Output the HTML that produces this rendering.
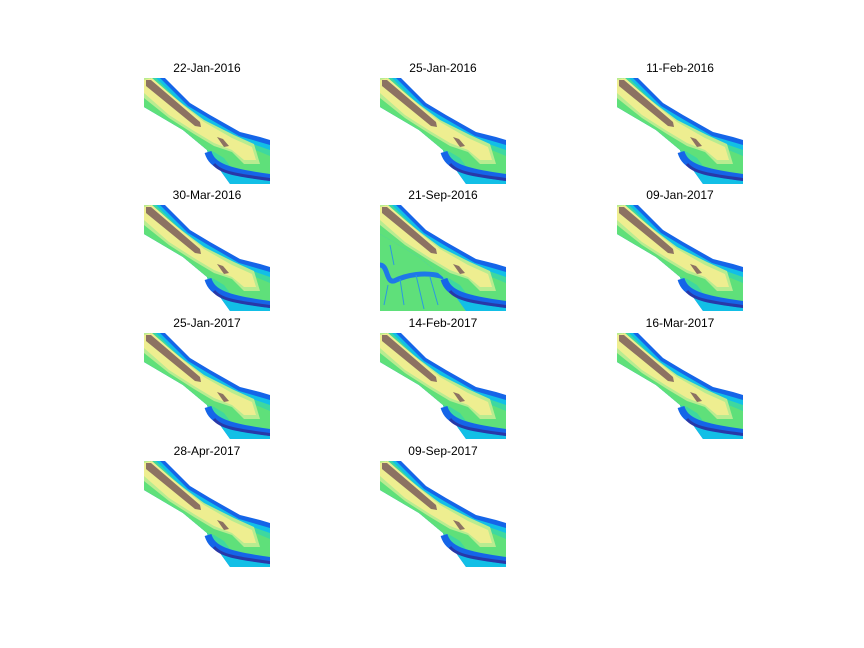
<!DOCTYPE html>
<html><head><meta charset="utf-8"><style>
body{margin:0;background:#fff;}
svg{display:block;font-family:"Liberation Sans","DejaVu Sans",sans-serif;}
</style></head><body>
<svg id="fig" width="864" height="648" viewBox="0 0 864 648">
<defs><clipPath id="pc"><rect x="0" y="0" width="126" height="106"/></clipPath></defs>
<rect width="864" height="648" fill="#fff"/>
</svg>
<script>
const titles=["22-Jan-2016","25-Jan-2016","11-Feb-2016","30-Mar-2016","21-Sep-2016","09-Jan-2017","25-Jan-2017","14-Feb-2017","16-Mar-2017","28-Apr-2017","09-Sep-2017"];
const floodedLowland=[0,0,0,0,1,0,0,0,0,0,0];
const colX=[144,380,617];
const rowY=[78,205,333,461];
const W=126,H=106;
const NS="http://www.w3.org/2000/svg";
const svg=document.getElementById('fig');
function poly(g,pts,fill){
  const p=document.createElementNS(NS,'polygon');
  p.setAttribute('points',pts.map(q=>q.join(',')).join(' '));
  p.setAttribute('fill',fill);
  
  
  g.appendChild(p);
}
function line(g,d,stroke,w,name){
  const c=document.createElementNS(NS,'path');
  c.setAttribute('d',d);c.setAttribute('stroke',stroke);c.setAttribute('stroke-width',w);
  c.setAttribute('fill','none');
  
  
  g.appendChild(c);
}
titles.forEach((t,i)=>{
  const x0=colX[i%3],y0=rowY[Math.floor(i/3)];
  const g=document.createElementNS(NS,'g');
  g.setAttribute('transform',`translate(${x0},${y0})`);
  g.setAttribute('clip-path','url(#pc)');
  
  
  svg.appendChild(g);
  const low=[[86,106],[76,92],[66,82],[63,72],[39,52],[0,29],[0,0]];
  if(floodedLowland[i]){
    poly(g,[[0,29],[39,52],[63,72],[66,82],[76,92],[86,106],[0,106]],'#5fe07a');
    line(g,'M0 60 C8 60 6 78 14 76 C26 70 45 66 64 72','#1e78e8',5,'channel');
    line(g,'M20 74 L24 100 M36 70 L44 104 M8 80 L4 100 M50 72 L58 100 M10 40 L14 60','#2a9ae0',1,'tributary');
  }
  poly(g,[[21,0],[46,25],[66,37],[96,54],[116,59],[126,62],[126,106],...low],'#1565e8');
  poly(g,[[16,0],[44,28],[64,40],[95,58],[126,67],[126,106],...low],'#12bfe6');
  poly(g,[[12,0],[42,30],[62,43],[94,61],[126,72],[126,101],[100,97],[86,94],[76,88],...low.slice(2)],'#3ed8a0');
  poly(g,[[8,0],[40,32],[60,46],[92,64],[126,78],[126,96],[100,92],[86,88],[80,80],[70,74],[63,72],[39,52],[0,29],[0,0]],'#5fe07a');
  line(g,'M64 74 C68 88 82 94 130 100','#1565e8',7,'channel-halo');
  line(g,'M70 86 C76 94 90 97 130 102','#2838a8',3,'deep-channel');
  poly(g,[[0,0],[6,0],[40,27],[60,42],[90,57],[110,66],[116,86],[100,86],[88,74],[70,68],[50,56],[25,40],[0,20]],'#b8ec90');
  poly(g,[[0,2],[8,0],[40,28],[60,44],[88,60],[108,69],[112,82],[100,82],[88,72],[70,65],[50,53],[25,37],[0,15]],'#eeee90');
  poly(g,[[2,2],[7,2],[56,44],[57,49],[51,48],[2,8]],'#8c7262');
  poly(g,[[73,59],[79,61],[85,68],[80,69]],'#8c7262');
  const tx=document.createElementNS(NS,'text');
  tx.setAttribute('x',x0+W/2);tx.setAttribute('y',y0-6);
  tx.setAttribute('text-anchor','middle');tx.setAttribute('font-size','12');
  tx.textContent=t;
  
  
  svg.appendChild(tx);
});
</script>
</body></html>
